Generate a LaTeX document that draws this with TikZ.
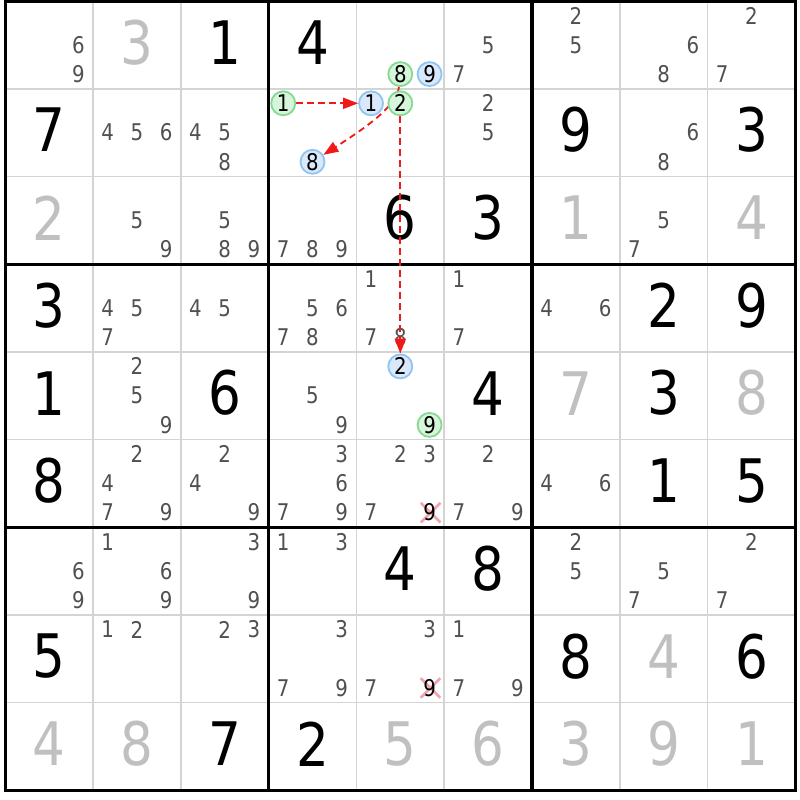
\documentclass[tikz,border=0pt]{standalone}
\usepackage{fontspec}
\setmainfont{DejaVu Sans}[FakeStretch=0.86]
\usetikzlibrary{arrows.meta,shapes.misc}
\definecolor{thingrid}{HTML}{D4D4D4}
\definecolor{candgray}{HTML}{505050}
\definecolor{solvedgray}{HTML}{C0C0C0}
\definecolor{gfill}{HTML}{D6F5DA}
\definecolor{gline}{HTML}{86D993}
\definecolor{bfill}{HTML}{D9E9FB}
\definecolor{bline}{HTML}{90C4F2}
\definecolor{linkred}{HTML}{F01818}
\definecolor{xpink}{HTML}{F4A3AE}
\pgfdeclarelayer{bg}
\pgfdeclarelayer{digits}
\pgfdeclarelayer{links}
\pgfsetlayers{bg,digits,links,main}
\tikzset{
  candtxt/.style={font=\fontsize{23}{26}\selectfont, text=candgray, inner sep=0pt},
  bigtxt/.style={font=\fontsize{60}{64}\selectfont, inner sep=0pt},
  giventxt/.style={bigtxt, text=black},
  solvedtxt/.style={bigtxt, text=solvedgray},
  oncirc/.style={circle, draw=gline, fill=gfill, line width=1.8pt, minimum size=24pt, inner sep=0pt, font=\fontsize{23}{26}\selectfont, text=black},
  offcirc/.style={oncirc, draw=bline, fill=bfill},
  link/.style={draw=linkred, line width=1.8pt, dash pattern=on 6.5pt off 4.5pt, -{Triangle[length=15pt,width=11pt]}},
  elimx/.style={cross out, draw=xpink, line width=2.6pt, minimum size=17pt, inner sep=0pt},
  thinline/.style={draw=thingrid, line width=1.7pt},
  thickline/.style={draw=black, line width=3.2pt},
}
\newcommand\candpos[3]{% row col digit
  \pgfmathsetmacro\px{5.2+87.8*(#2-1)+14.633*(1+2*mod(#3-1,3))}%
  \pgfmathsetmacro\py{1+87.7*(#1-1)+14.617*(1+2*floor((#3-1)/3))}}
\newcommand\mycands[3]{%
  \foreach \d in {#3}{%
    \candpos{#1}{#2}{\d}%
    \node[candtxt] (k#1#2\d) at (\px,\py) {\d};
  }}
\newcommand\mygiven[3]{%
  \pgfmathsetmacro\px{5.2+87.8*(#2-0.5)}%
  \pgfmathsetmacro\py{1+87.7*(#1-0.5)-2.5}%
  \node[giventxt] (v#1#2) at (\px,\py) {#3};}
\newcommand\mysolved[3]{%
  \pgfmathsetmacro\px{5.2+87.8*(#2-0.5)}%
  \pgfmathsetmacro\py{1+87.7*(#1-0.5)-2.5}%
  \node[solvedtxt] (v#1#2) at (\px,\py) {#3};}
\newcommand\mycirc[5]{% row col digit style name
  \candpos{#1}{#2}{#3}%
  \node[#4] (#5) at (\px,\py) {#3};}
\newcommand\myelim[3]{%
  \candpos{#1}{#2}{#3}%
  \node[elimx] (x#1#2) at (\px+1,\py) {};
  \node[candtxt, text=black] (k#1#2#3) at (\px,\py) {#3};}
\begin{document}
\begin{tikzpicture}[x=1pt, y=-1pt]
\useasboundingbox (0,0) rectangle (800,800);
\begin{pgfonlayer}{bg}
  \fill[white] (0,0) rectangle (800,800);
  \foreach \i in {1,...,8}{
    \pgfmathsetmacro\gx{5.2+87.8*\i}
    \pgfmathsetmacro\gy{1+87.7*\i}
    \draw[thinline] (\gx,1) -- (\gx,790.3);
    \draw[thinline] (5.2,\gy) -- (795.4,\gy);
  }
  \foreach \i in {3,6}{
    \pgfmathsetmacro\gx{5.2+87.8*\i}
    \pgfmathsetmacro\gy{1+87.7*\i}
    \draw[thickline] (\gx,1) -- (\gx,790.3);
    \draw[thickline] (5.2,\gy) -- (795.4,\gy);
  }
  \draw[thickline] (5.2,1) rectangle (795.4,790.3);
\end{pgfonlayer}
\begin{pgfonlayer}{digits}
  % row 1
  \mycands{1}{1}{6,9} \mysolved{1}{2}{3} \mygiven{1}{3}{1} \mygiven{1}{4}{4}
  \mycands{1}{6}{5,7} \mycands{1}{7}{2,5} \mycands{1}{8}{6,8} \mycands{1}{9}{2,7}
  % row 2
  \mygiven{2}{1}{7} \mycands{2}{2}{4,5,6} \mycands{2}{3}{4,5,8}
  \mycands{2}{6}{2,5} \mygiven{2}{7}{9} \mycands{2}{8}{6,8} \mygiven{2}{9}{3}
  % row 3
  \mysolved{3}{1}{2} \mycands{3}{2}{5,9} \mycands{3}{3}{5,8,9} \mycands{3}{4}{7,8,9}
  \mygiven{3}{5}{6} \mygiven{3}{6}{3} \mysolved{3}{7}{1} \mycands{3}{8}{5,7} \mysolved{3}{9}{4}
  % row 4
  \mygiven{4}{1}{3} \mycands{4}{2}{4,5,7} \mycands{4}{3}{4,5} \mycands{4}{4}{5,6,7,8}
  \mycands{4}{5}{1,7,8} \mycands{4}{6}{1,7} \mycands{4}{7}{4,6} \mygiven{4}{8}{2} \mygiven{4}{9}{9}
  % row 5
  \mygiven{5}{1}{1} \mycands{5}{2}{2,5,9} \mygiven{5}{3}{6} \mycands{5}{4}{5,9}
  \mygiven{5}{6}{4} \mysolved{5}{7}{7} \mygiven{5}{8}{3} \mysolved{5}{9}{8}
  % row 6
  \mygiven{6}{1}{8} \mycands{6}{2}{2,4,7,9} \mycands{6}{3}{2,4,9} \mycands{6}{4}{3,6,7,9}
  \mycands{6}{5}{2,3,7} \myelim{6}{5}{9} \mycands{6}{6}{2,7,9} \mycands{6}{7}{4,6}
  \mygiven{6}{8}{1} \mygiven{6}{9}{5}
  % row 7
  \mycands{7}{1}{6,9} \mycands{7}{2}{1,6,9} \mycands{7}{3}{3,9} \mycands{7}{4}{1,3}
  \mygiven{7}{5}{4} \mygiven{7}{6}{8} \mycands{7}{7}{2,5} \mycands{7}{8}{5,7} \mycands{7}{9}{2,7}
  % row 8
  \mygiven{8}{1}{5} \mycands{8}{2}{1,2} \mycands{8}{3}{2,3} \mycands{8}{4}{3,7,9}
  \mycands{8}{5}{3,7} \myelim{8}{5}{9} \mycands{8}{6}{1,7,9} \mygiven{8}{7}{8}
  \mysolved{8}{8}{4} \mygiven{8}{9}{6}
  % row 9
  \mysolved{9}{1}{4} \mysolved{9}{2}{8} \mygiven{9}{3}{7} \mygiven{9}{4}{2}
  \mysolved{9}{5}{5} \mysolved{9}{6}{6} \mysolved{9}{7}{3} \mysolved{9}{8}{9} \mysolved{9}{9}{1}
\end{pgfonlayer}
% circled candidates
\mycirc{1}{5}{8}{oncirc}{ga8}
\mycirc{1}{5}{9}{offcirc}{ba9}
\mycirc{2}{4}{1}{oncirc}{gb1}
\mycirc{2}{4}{8}{offcirc}{bb8}
\mycirc{2}{5}{1}{offcirc}{bc1}
\mycirc{2}{5}{2}{oncirc}{gc2}
\mycirc{5}{5}{2}{offcirc}{bd2}
\mycirc{5}{5}{9}{oncirc}{gd9}
\begin{pgfonlayer}{links}
  \draw[link] (gb1) -- (bc1);
  \draw[link] (ga8) .. controls (397,105) and (370,125) .. (bb8);
  \draw[link] (gc2) -- (bd2);
\end{pgfonlayer}
\end{tikzpicture}
\end{document}
